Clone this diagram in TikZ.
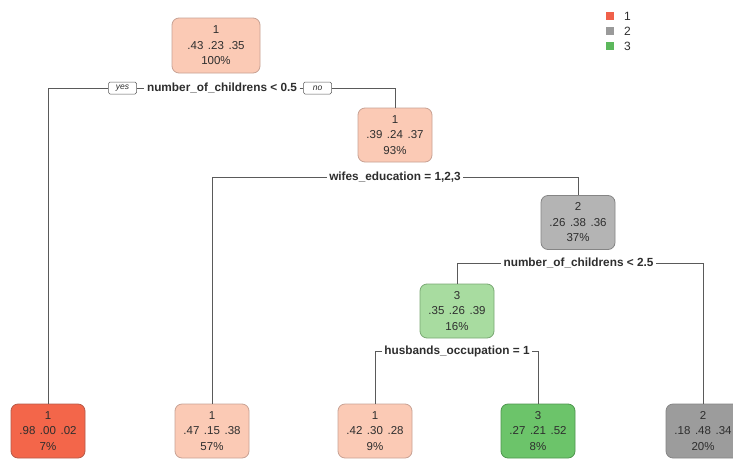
\documentclass[tikz,border=0pt]{standalone}
\usepackage{fontspec}
\setmainfont{Liberation Sans}
\definecolor{salF}{HTML}{FBCAB5}
\definecolor{salD}{HTML}{C8A294}
\definecolor{redF}{HTML}{F3664A}
\definecolor{redD}{HTML}{B65A48}
\definecolor{gryF}{HTML}{B4B4B4}
\definecolor{gryD}{HTML}{858585}
\definecolor{gry2F}{HTML}{9C9C9C}
\definecolor{grnF}{HTML}{A8DCA0}
\definecolor{grnD}{HTML}{7AA874}
\definecolor{grn2F}{HTML}{6CC46A}
\definecolor{grn2D}{HTML}{4E964E}
\definecolor{txt}{HTML}{2E2E2E}
\definecolor{conn}{HTML}{5A5A5A}
\definecolor{legR}{HTML}{F0604A}
\definecolor{legG}{HTML}{9A9A9A}
\definecolor{legN}{HTML}{5CB85C}
\tikzset{
  box/.style={rounded corners=7pt, line width=0.8pt, minimum width=74pt, minimum height=54pt,
    align=center, font=\fontsize{11.5}{15.5}\selectfont, text=txt, inner sep=0pt},
  salbox/.style={box, fill=salF, draw=salD},
  redbox/.style={box, fill=redF, draw=redD},
  grybox/.style={box, fill=gryF, draw=gryD},
  gry2box/.style={box, fill=gry2F, draw=gryD},
  grnbox/.style={box, fill=grnF, draw=grnD},
  grn2box/.style={box, fill=grn2F, draw=grn2D},
  splitlab/.style={font=\bfseries\fontsize{11.8}{13}\selectfont, text=txt, inner sep=2.5pt},
  yn/.style={draw=conn, line width=0.5pt, rounded corners=1.5pt, font=\itshape\fontsize{8.5}{9}\selectfont,
    text=txt, inner sep=1pt, minimum width=28pt, minimum height=12pt},
  connector/.style={draw=conn, line width=0.8pt},
  legsq/.style={minimum size=8pt, inner sep=0pt},
  leglab/.style={font=\fontsize{12}{13}\selectfont, text=txt, anchor=west, inner sep=0pt}
}
\newcommand{\pp}[3]{#1\hspace{0.4em}#2\hspace{0.4em}#3}
\begin{document}
\begin{tikzpicture}[x=1pt,y=-1pt]
\useasboundingbox (0,0) rectangle (733,458);
\clip (0,0) rectangle (733,458);
\fill[white] (0,0) rectangle (733,458);
% nodes
\node[salbox, minimum width=88pt, minimum height=55pt] (root) at (216,45.5) {1\\\pp{.43}{.23}{.35}\\100\%};
\node[salbox] (n2) at (395,135) {1\\\pp{.39}{.24}{.37}\\93\%};
\node[grybox] (n3) at (578,222.5) {2\\\pp{.26}{.38}{.36}\\37\%};
\node[grnbox] (n4) at (457,311) {3\\\pp{.35}{.26}{.39}\\16\%};
\node[redbox] (l1) at (48,431) {1\\\pp{.98}{.00}{.02}\\7\%};
\node[salbox] (l2) at (212,431) {1\\\pp{.47}{.15}{.38}\\57\%};
\node[salbox] (l3) at (375,431) {1\\\pp{.42}{.30}{.28}\\9\%};
\node[grn2box] (l4) at (538,431) {3\\\pp{.27}{.21}{.52}\\8\%};
\node[gry2box] (l5) at (703,431) {2\\\pp{.18}{.48}{.34}\\20\%};
% split labels
\node[splitlab] (s1) at (222,88) {number\_of\_childrens < 0.5};
\node[yn] (yes) at (122.5,88) {yes};
\node[yn] (no) at (317.5,88) {no};
\node[splitlab] (s2) at (395,177) {wifes\_education = 1,2,3};
\node[splitlab] (s3) at (578.5,263) {number\_of\_childrens < 2.5};
\node[splitlab] (s4) at (457,351) {husbands\_occupation = 1};
% connectors
\draw[connector] (l1.north) |- (yes.west);
\draw[connector] (yes.east) -- (s1.west);
\draw[connector] (s1.east) -- (no.west);
\draw[connector] (no.east) -| (n2.north);
\draw[connector] (l2.north) |- (s2.west);
\draw[connector] (s2.east) -| (n3.north);
\draw[connector] (n4.north) |- (s3.west);
\draw[connector] (s3.east) -| (l5.north);
\draw[connector] (l3.north) |- (s4.west);
\draw[connector] (s4.east) -| (l4.north);
% legend
\node[legsq, fill=legR] (k1) at (610,16) {};
\node[legsq, fill=legG] (k2) at (610,31) {};
\node[legsq, fill=legN] (k3) at (610,46) {};
\node[leglab] (t1) at (624,16) {1};
\node[leglab] (t2) at (624,31) {2};
\node[leglab] (t3) at (624,46) {3};
\end{tikzpicture}
\end{document}
